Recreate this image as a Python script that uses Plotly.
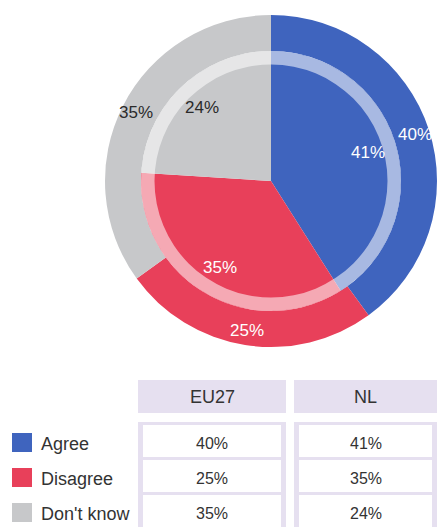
import math
import plotly.graph_objects as go

categories = ["Agree", "Disagree", "Don't know"]
columns = ["EU27", "NL"]
eu27 = [40, 25, 35]
nl = [41, 35, 24]

colors = ["#3F64BE", "#E8405A", "#C7C8CA"]
label_colors = ["white", "white", "#2a2a2a"]

W, H = 437, 527
FONT = "Liberation Sans, Arial, sans-serif"

fig = go.Figure()


def px(x):
    return x / W


def py(y):
    return 1 - y / H


# geometry (pixels)
cx, cy, R = 271, 181, 166
r_in = 130

# outer ring: EU27
fig.add_trace(go.Pie(
    values=eu27, labels=categories, sort=False, direction="clockwise", rotation=0,
    hole=r_in / R,
    domain=dict(x=[(cx - R) / W, 1.0], y=[(H - cy - R) / H, (H - cy + R) / H]),
    marker=dict(colors=colors, line=dict(width=0)),
    textinfo="none", hoverinfo="skip",
))

# inner pie: NL
inner_dom = dict(x=[(cx - r_in) / W, (cx + r_in) / W], y=[(H - cy - r_in) / H, (H - cy + r_in) / H])
fig.add_trace(go.Pie(
    values=nl, labels=categories, sort=False, direction="clockwise", rotation=0,
    domain=inner_dom,
    marker=dict(colors=colors, line=dict(width=0)),
    textinfo="none", hoverinfo="skip",
))

# translucent separating ring
fig.add_trace(go.Pie(
    values=[1], labels=["ring"], hole=116.5 / r_in, domain=inner_dom,
    marker=dict(colors=["rgba(255,255,255,0.55)"], line=dict(width=0)),
    textinfo="none", hoverinfo="skip", sort=False,
))

annotations = []
shapes = []


def add_text(text, x, y, size, color, xanchor="center"):
    annotations.append(dict(text=text, x=px(x), y=py(y), xref="paper", yref="paper",
                            xanchor=xanchor, yanchor="middle", showarrow=False,
                            font=dict(size=size, color=color, family=FONT)))


def slice_labels(values, rl):
    total = sum(values)
    cum = 0
    for v, col in zip(values, label_colors):
        th = math.radians(360 * (cum + v / 2) / total)
        cum += v
        add_text(f"{v}%", cx + rl * math.sin(th), cy - rl * math.cos(th), 17, col)


slice_labels(eu27, 151)
slice_labels(nl, 101)

lav = "#E6E0F0"

col_x = [(138, 286), (294, 437)]
for (x0, x1), name in zip(col_x, columns):
    shapes.append(dict(type="rect", xref="paper", yref="paper", x0=px(x0), x1=px(x1),
                       y0=py(413), y1=py(380), fillcolor=lav, line=dict(width=0), layer="below"))
    add_text(name, (x0 + x1) / 2, 397, 18, "#333")
    shapes.append(dict(type="rect", xref="paper", yref="paper", x0=px(x0), x1=px(x1),
                       y0=py(527), y1=py(422), fillcolor=lav, line=dict(width=0), layer="below"))

row_y = [(425, 457), (460, 492), (495, 527)]
for (x0, x1), vals in zip(col_x, [eu27, nl]):
    for (y0, y1), v in zip(row_y, vals):
        shapes.append(dict(type="rect", xref="paper", yref="paper", x0=px(x0 + 5), x1=px(x1 - 5),
                           y0=py(y1), y1=py(y0), fillcolor="white", line=dict(width=0), layer="below"))
        add_text(f"{v}%", (x0 + x1) / 2, (y0 + y1) / 2 + 2, 16, "#333")

# legend
leg_y = [(433, 452), (468, 487), (503, 522)]
for (y0, y1), cat, col in zip(leg_y, categories, colors):
    shapes.append(dict(type="rect", xref="paper", yref="paper", x0=px(12), x1=px(32),
                       y0=py(y1), y1=py(y0), fillcolor=col, line=dict(width=0)))
    add_text(cat, 39, (y0 + y1) / 2 + 1, 18, "#333", xanchor="left")

fig.update_layout(
    width=W, height=H, margin=dict(l=0, r=0, t=0, b=0),
    paper_bgcolor="white", plot_bgcolor="white", showlegend=False,
    shapes=shapes, annotations=annotations,
)

fig.write_html("out.html", config={"displayModeBar": False},
               post_script="document.body.style.margin='0';")
